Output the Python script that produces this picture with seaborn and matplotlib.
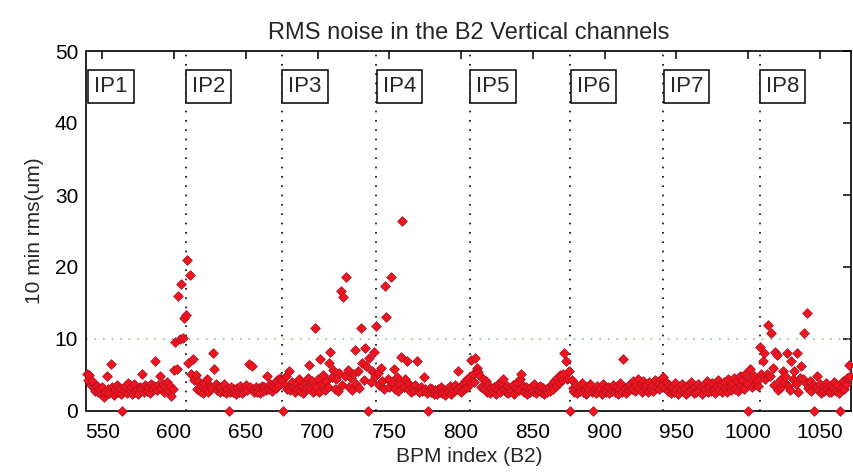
import numpy as np
import pandas as pd
import matplotlib
matplotlib.use("Agg")
import matplotlib.pyplot as plt
import seaborn as sns

# ---------------- data ----------------
title = "RMS noise in the B2 Vertical channels"
xlabel = "BPM index (B2)"
ylabel = "10 min rms(um)"

sector_starts = [539, 608, 675, 741, 806, 876, 941, 1008]
ip_lines = [608, 675, 741, 806, 876, 941, 1008]
ip_labels = ["IP1", "IP2", "IP3", "IP4", "IP5", "IP6", "IP7", "IP8"]
ip_label_x = [544.5, 612.5, 679.5, 745.5, 810.5, 880.5, 945.5, 1012.5]
threshold = 10

s1 = [5.2,4.3,5.0,3.6,4.1,3.2,2.8,3.5,2.6,3.0,
      2.4,3.3,1.9,2.7,4.9,3.1,2.5,6.5,3.4,2.2,
      3.0,3.6,2.6,3.2,2.3,0.0,2.8,3.5,2.5,3.9,
      2.9,3.3,2.4,3.7,2.7,3.1,2.3,3.4,3.0,5.2,
      2.6,3.6,2.8,3.3,2.5,3.8,3.0,3.5,7.0,2.9,
      3.6,4.9,3.2,3.7,2.7,3.4,4.0,2.9,3.5,2.1,
      3.0,5.7,9.6,5.9,16.0,10.0,17.7,10.1,12.9]
s2 = [13.3,21.0,6.7,18.9,5.2,7.2,4.3,5.0,3.1,4.2,
      2.8,3.6,2.5,3.9,3.0,4.4,2.7,3.5,3.2,8.0,
      5.9,3.8,2.9,3.4,2.6,3.3,2.8,3.7,2.5,3.1,
      0.0,2.7,3.4,2.6,3.0,2.4,3.2,2.7,3.5,2.5,
      3.1,2.8,3.6,2.9,6.5,3.3,6.2,3.0,2.6,3.4,
      2.7,3.2,2.5,3.5,2.8,3.3,2.9,4.9,3.1,3.7,
      2.8,3.4,3.9,3.2,4.3,3.6,4.6]
s3 = [4.3,0.0,3.6,4.8,3.1,5.5,2.9,4.0,3.3,2.6,
      3.8,3.0,4.5,2.8,3.5,2.5,3.9,3.2,4.6,6.4,
      3.0,4.1,2.7,11.5,3.4,4.4,2.6,7.2,3.8,5.0,
      2.9,4.2,3.3,6.6,8.2,4.7,5.7,3.1,4.5,2.8,
      5.3,16.6,3.6,15.9,4.9,18.6,5.7,3.4,4.6,2.9,
      5.1,8.5,3.8,5.5,3.2,11.5,6.6,4.3,8.7,6.2,
      0.0,7.3,4.0,5.6,8.2,4.8]
s4 = [11.8,5.3,3.6,6.0,4.2,3.1,17.3,13.1,4.5,3.4,
      18.6,4.0,5.8,3.0,4.7,2.8,3.9,7.5,26.4,3.3,
      4.4,6.9,3.0,3.7,2.7,3.4,2.9,3.6,7.0,3.1,
      2.6,3.3,2.8,4.7,3.0,2.5,0.0,3.2,2.6,3.0,
      2.4,2.9,2.3,3.1,2.6,3.4,2.5,2.9,2.2,3.0,
      2.7,3.5,2.4,3.1,2.8,3.6,3.0,5.5,3.3,2.7,
      3.8,3.1,4.2,3.4,4.6]
s5 = [3.9,7.1,5.2,4.0,7.3,6.0,5.4,4.9,3.4,4.5,
      3.0,4.1,2.7,3.6,2.5,3.2,2.8,3.4,2.4,3.0,
      3.7,2.6,3.9,4.5,3.1,2.7,3.5,2.5,3.2,2.8,
      3.6,2.4,3.3,4.0,2.9,4.4,5.2,3.5,2.7,3.3,
      2.4,3.0,2.6,3.4,2.8,3.7,2.5,3.1,2.9,3.5,
      2.6,3.2,2.4,3.0,2.7,3.4,2.8,3.8,3.1,4.2,
      3.5,4.6,3.9,5.0,4.3,5.2,8.0,6.9,4.5,5.5]
s6 = [0.0,4.3,3.2,2.7,3.6,2.5,3.3,2.8,3.9,2.6,
      3.1,2.4,3.4,2.9,3.7,2.6,0.0,3.0,2.5,3.5,
      2.8,3.2,2.4,3.8,3.0,2.7,3.4,2.5,3.1,2.8,
      3.6,2.6,3.3,2.3,3.0,3.9,2.7,7.2,3.2,2.5,
      3.5,2.9,3.8,3.1,4.1,2.8,3.6,4.4,3.0,3.9,
      2.7,4.2,3.3,3.7,2.6,4.0,3.1,3.5,2.8,4.3,
      3.4,3.9,3.0,4.5,3.6]
s7 = [4.7,3.2,4.0,2.8,3.6,2.5,3.3,2.7,3.9,3.0,
      2.4,3.5,2.9,3.8,2.6,3.2,2.4,3.6,2.8,4.0,
      3.1,2.5,3.4,2.7,3.7,2.9,3.3,2.4,3.6,3.0,
      4.1,2.6,3.4,2.8,3.9,3.1,2.5,3.5,4.3,2.9,
      3.7,2.6,4.0,3.2,2.7,4.4,3.4,2.9,3.8,4.6,
      3.1,4.1,2.8,4.8,3.6,4.3,3.0,5.1,3.9,0.0,
      5.8,4.5,3.3,4.9,3.7,4.2,3.5]
s8 = [8.9,5.2,6.9,8.0,4.4,5.2,11.9,4.8,10.8,6.0,
      3.6,8.2,7.8,2.9,4.3,3.4,5.5,4.0,4.8,8.0,
      3.5,2.9,6.9,4.5,5.5,3.8,8.0,2.7,4.6,6.2,
      4.5,10.8,3.9,13.6,3.2,4.1,2.8,3.6,0.0,3.3,
      4.8,2.9,3.7,2.5,3.4,2.8,3.9,3.1,2.6,3.5,
      2.7,3.3,4.0,2.8,3.6,2.5,0.0,3.2,4.2,3.0,
      3.8,4.6,6.4,4.9]
sectors = [s1, s2, s3, s4, s5, s6, s7, s8]

frames = []
for start, vals in zip(sector_starts, sectors):
    frames.append(pd.DataFrame({"bpm": np.arange(start, start + len(vals)),
                                "rms": vals}))
df = pd.concat(frames, ignore_index=True)

# ---------------- plot ----------------
sns.set_theme(style="white")
plt.rcParams["font.family"] = ["Liberation Sans", "DejaVu Sans"]

fig = plt.figure(figsize=(8.54, 4.76), dpi=100)
ax = fig.add_axes([86.5 / 854, 1 - 411 / 476, (851.5 - 86.5) / 854, (411 - 51) / 476])

for xl in ip_lines:
    ax.axvline(xl, color="black", lw=1.2, linestyle=(0, (1, 4.6)), zorder=1)
ax.axhline(threshold, color="#6cc06c", lw=1.1, linestyle=(0, (1, 4.6)), zorder=1)

sns.scatterplot(data=df, x="bpm", y="rms", marker="D", s=24,
                color="#f2141c", edgecolor="#b01428", linewidth=0.6,
                ax=ax, clip_on=False, zorder=3, legend=False)

for lab, xp in zip(ip_labels, ip_label_x):
    ax.text(xp, 45.1, lab, fontsize=16, ha="left", va="center",
            bbox=dict(boxstyle="square,pad=0.27", fc="white", ec="black", lw=1.1),
            zorder=4)

ax.set_xlim(539, 1072)
ax.set_ylim(0, 50)
ax.set_xticks(np.arange(550, 1051, 50))
ax.set_yticks(np.arange(0, 51, 10))
ax.tick_params(direction="in", top=True, right=True, length=5.5, width=1.1,
               labelsize=15, pad=6, colors="black")
ax.tick_params(axis="x", pad=8.5)
for sp in ax.spines.values():
    sp.set_color("black")
    sp.set_linewidth(1.2)

ax.set_title(title, fontsize=17, pad=9)
ax.set_xlabel(xlabel, fontsize=15, labelpad=4)
ax.set_ylabel(ylabel, fontsize=15, labelpad=8)

fig.savefig("out.png", dpi=100, facecolor="white")
